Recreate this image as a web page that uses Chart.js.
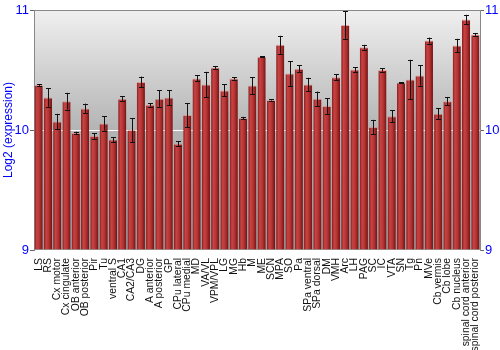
<!DOCTYPE html>
<html>
<head>
<meta charset="utf-8">
<script src="https://cdn.jsdelivr.net/npm/chart.js@4"></script>
<style>
  body { margin: 0; background: #fff; }
  #wrap { width: 500px; height: 350px; }
</style>
</head>
<body>
<div id="wrap"><canvas id="chart" width="500" height="350"></canvas></div>
<script>
const regions = [
  "LS", "RS", "Cx motor", "Cx cingulate", "OB anterior", "OB posterior", "Pir", "Tu",
  "ventral S", "CA1", "CA2/CA3", "DG", "A anterior", "A posterior", "GP", "CPu lateral",
  "CPu medial", "MD", "VA/VL", "VPM/VPL", "LG", "MG", "Hb", "M", "ME", "SCN", "MPA",
  "SO", "Pa", "SPa ventral", "SPa dorsal", "DM", "VMH", "Arc", "LH", "PAG", "SC", "IC",
  "VTA", "SN", "Tg", "Pn", "MVe", "Cb vermis", "Cb lobe", "Cb nucleus",
  "spinal cord anterior", "spinal cord posterior"
];

const expression = [
  10.375, 10.27, 10.07, 10.24, 9.975, 10.18, 9.95, 10.055,
  9.92, 10.26, 10.0, 10.4, 10.21, 10.26, 10.27, 9.885,
  10.125, 10.43, 10.38, 10.52, 10.33, 10.43, 10.1, 10.37, 10.61, 10.25, 10.71,
  10.47, 10.51, 10.38, 10.26, 10.2, 10.44, 10.875, 10.505, 10.69, 10.025, 10.5,
  10.115, 10.395, 10.42, 10.455, 10.745, 10.135, 10.24, 10.705,
  10.92, 10.795
];

const errors = [
  0.008, 0.076, 0.065, 0.07, 0.01, 0.04, 0.025, 0.06,
  0.02, 0.02, 0.1, 0.045, 0.015, 0.07, 0.063, 0.022,
  0.1, 0.025, 0.105, 0.01, 0.05, 0.01, 0.01, 0.07, 0.005, 0.005, 0.075,
  0.105, 0.03, 0.055, 0.06, 0.065, 0.025, 0.115, 0.02, 0.02, 0.06, 0.014,
  0.05, 0.005, 0.165, 0.085, 0.025, 0.045, 0.035, 0.055,
  0.04, 0.01
];

const yTicks = [9, 10, 11];

const blue = "#0000ff";
const font = "'Liberation Sans', Arial, sans-serif";

// gray gradient behind the bars
const backdrop = {
  id: "backdrop",
  beforeDraw(chart) {
    const { ctx, chartArea: a } = chart;
    const g = ctx.createLinearGradient(0, a.top, 0, a.bottom);
    g.addColorStop(0, "#f0f0f0");
    g.addColorStop(0.5, "#b4b4b4");
    g.addColorStop(1, "#9a9a9a");
    ctx.save();
    ctx.fillStyle = g;
    ctx.fillRect(a.left, a.top, a.right - a.left, a.bottom - a.top);
    ctx.restore();
  }
};

// error bars from the data through the y scale
const errorBars = {
  id: "errorBars",
  afterDatasetsDraw(chart) {
    const ctx = chart.ctx;
    const y = chart.scales.y;
    const bars = chart.getDatasetMeta(0).data;
    ctx.save();
    ctx.strokeStyle = "#111";
    ctx.lineWidth = 1;
    bars.forEach((bar, i) => {
      const x = Math.round(bar.x) + 0.5;
      const hi = y.getPixelForValue(expression[i] + errors[i]);
      const lo = y.getPixelForValue(expression[i] - errors[i]);
      ctx.beginPath();
      ctx.moveTo(x, hi);
      ctx.lineTo(x, lo);
      ctx.moveTo(x - 2.5, Math.round(hi) + 0.5);
      ctx.lineTo(x + 2.5, Math.round(hi) + 0.5);
      ctx.moveTo(x - 2.5, Math.round(lo) + 0.5);
      ctx.lineTo(x + 2.5, Math.round(lo) + 0.5);
      ctx.stroke();
    });
    ctx.restore();
  }
};

function barFill(context) {
  const chart = context.chart;
  if (!chart.chartArea || !chart.scales.x) return "#b03030";
  const x = chart.scales.x.getPixelForValue(context.dataIndex);
  const w = 9;
  const g = chart.ctx.createLinearGradient(x - w / 2, 0, x + w / 2, 0);
  g.addColorStop(0, "#7a1414");
  g.addColorStop(0.3, "#c84444");
  g.addColorStop(0.6, "#b33232");
  g.addColorStop(1, "#6a0e0e");
  return g;
}

const config = {
  type: "bar",
  data: {
    labels: regions,
    datasets: [
      {
        data: expression,
        backgroundColor: barFill,
        borderColor: "rgba(230,120,120,0.6)",
        borderWidth: { top: 1, left: 0, right: 0, bottom: 0 },
        barPercentage: 0.88,
        categoryPercentage: 1.0,
        base: 9,
      },
    ],
  },
  options: {
    responsive: false,
    animation: false,
    layout: { padding: { top: 10, right: 0, bottom: 0, left: 0 } },
    plugins: {
      legend: { display: false },
      tooltip: { enabled: false },
    },
    scales: {
      x: {
        grid: { display: false },
        border: { display: false },
        ticks: {
          autoSkip: false,
          minRotation: 90,
          maxRotation: 90,
          padding: 0,
          color: "#111",
          font: { family: font, size: 10.4 },
        },
        afterFit(scale) {
          scale.height = 100;
        },
      },
      y: {
        position: "left",
        min: 9,
        max: 11,
        afterBuildTicks(scale) {
          scale.ticks = yTicks.map((v) => ({ value: v }));
        },
        grid: {
          color: (c) => (c.tick && c.tick.value === 10 ? "#ffffff" : c.tick && c.tick.value === 11 ? "#888888" : "rgba(0,0,0,0)"),
          tickColor: "#666",
          tickLength: 4,
        },
        border: { color: "#888", width: 1 },
        ticks: {
          color: blue,
          padding: 1,
          font: { family: font, size: 13 },
        },
        title: {
          display: true,
          text: "Log2 (expression)",
          color: blue,
          padding: { top: 1, bottom: 2 },
          font: { family: font, size: 12 },
        },
        afterFit(scale) {
          scale.width = 34;
        },
      },
      y2: {
        position: "right",
        min: 9,
        max: 11,
        afterBuildTicks(scale) {
          scale.ticks = yTicks.map((v) => ({ value: v }));
        },
        grid: {
          drawOnChartArea: false,
          tickColor: "#666",
          tickLength: 4,
        },
        border: { color: "#888", width: 1 },
        ticks: {
          color: blue,
          padding: 1,
          font: { family: font, size: 13 },
        },
        afterFit(scale) {
          scale.width = 20;
        },
      },
    },
  },
  plugins: [backdrop, errorBars],
};

const myChart = new Chart(document.getElementById("chart"), config);
</script>
</body>
</html>
